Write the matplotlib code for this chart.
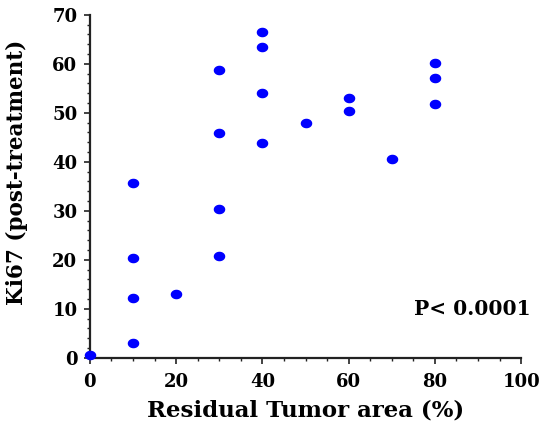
import numpy as np
import matplotlib.pyplot as plt
from matplotlib.ticker import MultipleLocator

# residual tumor area (%) vs Ki67 post-treatment
tumor_area = [0, 10, 10, 10, 10, 20, 30, 30, 30, 30, 40, 40, 40, 40,
              50, 60, 60, 70, 80, 80, 80]
ki67 = [0.5, 35.7, 20.4, 12.2, 3.1, 13.0, 58.8, 45.8, 30.3, 20.8,
        66.5, 63.4, 54.0, 43.8, 48.0, 53.1, 50.3, 40.5, 60.1, 57.1, 51.8]

plt.rcParams['font.family'] = 'DejaVu Serif'
plt.rcParams['font.weight'] = 'bold'

# slightly flattened dot like the original
t = np.linspace(0, 2 * np.pi, 40)
ellipse = np.column_stack([np.cos(t), 0.83 * np.sin(t)])

fig = plt.figure(figsize=(5.55, 4.23), dpi=100)
ax = fig.add_axes([0.162, 0.154, 0.777, 0.811])

ax.plot(tumor_area, ki67, linestyle='none', marker=ellipse, color='#0000ff',
        markersize=8.3, markeredgewidth=0, clip_on=False, zorder=3)

ax.set_xlim(0, 100)
ax.set_ylim(0, 70)
ax.xaxis.set_major_locator(MultipleLocator(20))
ax.xaxis.set_minor_locator(MultipleLocator(5))
ax.yaxis.set_major_locator(MultipleLocator(10))
ax.yaxis.set_minor_locator(MultipleLocator(2))

for s in ['top', 'right']:
    ax.spines[s].set_visible(False)
for s in ['left', 'bottom']:
    ax.spines[s].set_linewidth(1.6)
    ax.spines[s].set_color('#222222')

ax.tick_params(which='major', length=4, width=1.2, labelsize=13, colors='#222222')
ax.tick_params(which='minor', length=2.5, width=1.0, colors='#222222')
ax.tick_params(axis='x', pad=7)
ax.tick_params(axis='y', pad=5)
for lab in ax.get_xticklabels() + ax.get_yticklabels():
    lab.set_fontweight('bold')
    lab.set_color('black')

ax.set_xlabel('Residual Tumor area (%)', fontsize=16.5, fontweight='bold', labelpad=6)
ax.set_ylabel('Ki67 (post-treatment)', fontsize=15.5, fontweight='bold')
ax.yaxis.set_label_coords(-0.143, 0.54)

ax.text(75.2, 10.0, 'P< 0.0001', fontsize=14.5, fontweight='bold', va='center', ha='left')

fig.savefig('out.png', dpi=100)
